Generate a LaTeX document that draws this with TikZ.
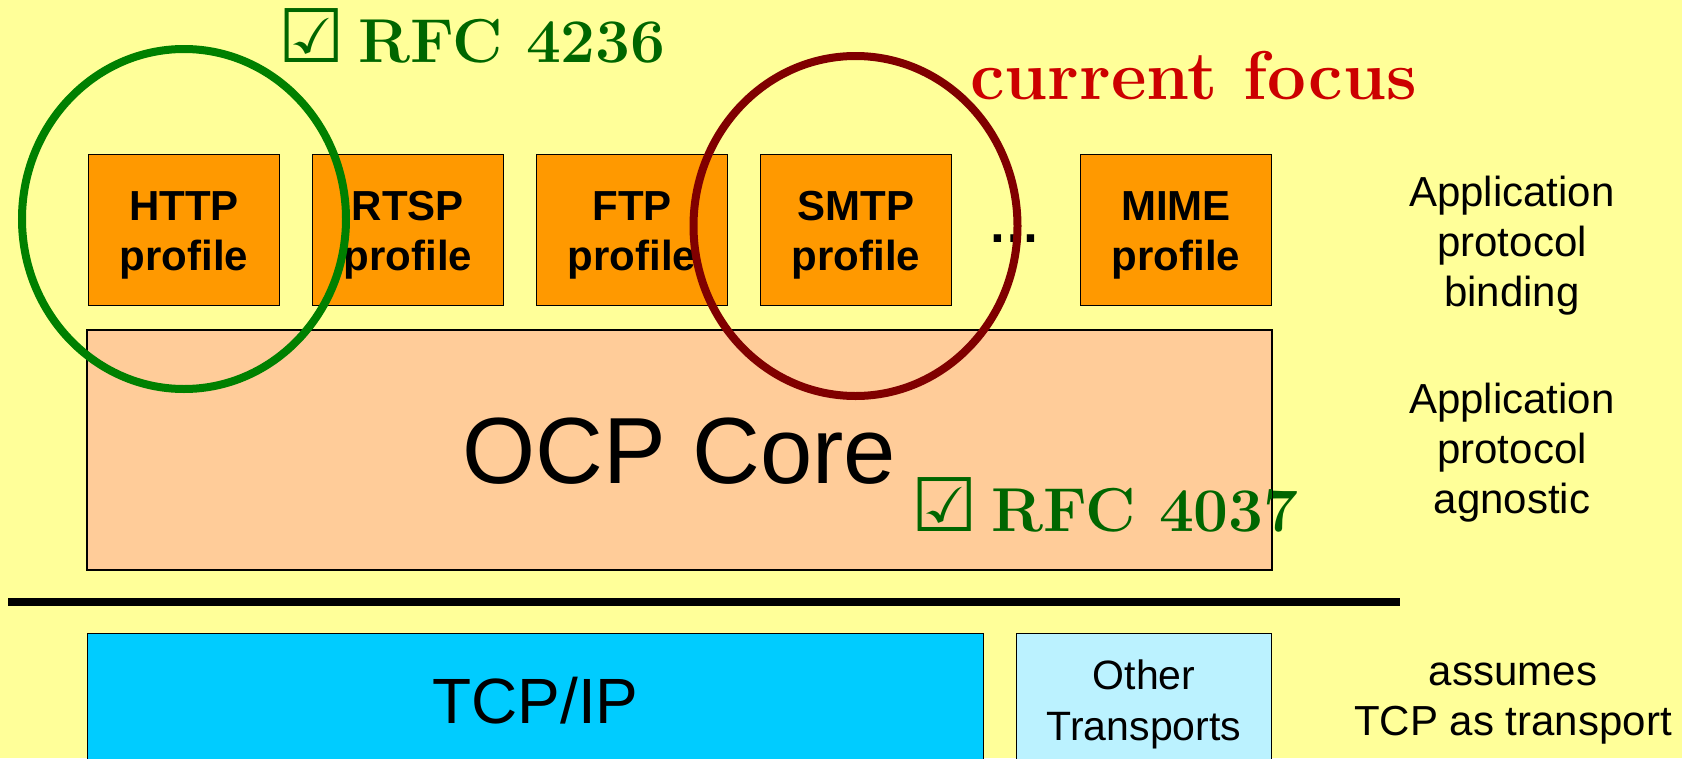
\documentclass[tikz,border=0pt]{standalone}
\usepackage{fontspec}
\newfontfamily\arial{Liberation Sans}
\newfontfamily\dejavu{DejaVu Sans}
\definecolor{bgyellow}{HTML}{FFFF99}
\definecolor{orangeA}{HTML}{FF9900}
\definecolor{peach}{HTML}{FFCC99}
\definecolor{tcpblue}{HTML}{00CCFF}
\definecolor{lightcyan}{RGB}{187,242,255}
\definecolor{ringgreen}{HTML}{008000}
\definecolor{textgreen}{HTML}{006600}
\definecolor{ringred}{HTML}{800000}
\definecolor{textred}{HTML}{CC0000}
\newcommand{\chkbox}{{\dejavu\bfseries\fontsize{74}{74}\selectfont ☑}}
\tikzset{
  box/.style={draw=black, line width=1.8pt, inner sep=0pt, align=center},
  profilebox/.style={box, fill=orangeA, minimum width=191pt, minimum height=151pt,
    font=\arial\bfseries\fontsize{42}{50}\selectfont, text height=80pt, text depth=0pt},
  sidelabel/.style={inner sep=0pt, align=center, font=\arial\fontsize{42}{50}\selectfont, text depth=0pt},
  ring/.style={line width=8pt},
  rfc/.style={inner sep=0pt, anchor=base west, text=textgreen, font=\bfseries\fontsize{62}{62}\selectfont},
}
\begin{document}
\begin{tikzpicture}[x=1pt,y=-1pt]
\fill[bgyellow] (0,0) rectangle (1682,758);
\useasboundingbox (0,0) rectangle (1682,758);
% profiles
\node[profilebox] (http) at (184,230) {HTTP\\profile};
\node[profilebox] (rtsp) at (408,230) {RTSP\\profile};
\node[profilebox] (ftp)  at (632,230) {FTP\\profile};
\node[profilebox] (smtp) at (856,230) {SMTP\\profile};
\node[profilebox] (mime) at (1176,230) {MIME\\profile};
\node[inner sep=0pt, anchor=base, font=\arial\bfseries\fontsize{52}{52}\selectfont] (dots) at (1014,242) {…};
% core
\node[box, fill=peach, minimum width=1184pt, minimum height=239pt,
      font=\arial\fontsize{94}{94}\selectfont, text height=67pt, text depth=0pt] (ocp) at (679.5,450) {OCP Core};
\node[rfc] (rfcb) at (911,531) {\chkbox\hspace{14pt}RFC 4037};
\draw[line width=1.8pt] (ocp.north west) rectangle (ocp.south east);
% separator
\coordinate (la) at (8,602);
\coordinate (lb) at (1400,602);
\draw[line width=8pt] (la) -- (lb);
% transports
\node[box, fill=tcpblue, minimum width=896pt, minimum height=133pt,
      font=\arial\fontsize{64}{64}\selectfont, text height=46pt, text depth=0pt] (tcp) at (535.5,700) {TCP/IP};
\node[box, fill=lightcyan, minimum width=255pt, minimum height=133pt,
      font=\arial\fontsize{41}{51}\selectfont, text height=80pt, text depth=0pt] (other) at (1144,700) {Other\\Transports};
% rings
\draw[ring, ringgreen] (184,219) ellipse [x radius=162pt, y radius=170pt];
\draw[ring, ringred] (855.5,226) ellipse [x radius=162pt, y radius=170pt];
% labels
\node[rfc] (rfca) at (278,62) {\chkbox\hspace{14pt}RFC 4236};
\node[inner sep=0pt, anchor=base west, text=textred, font=\bfseries\fontsize{69}{69}\selectfont] (focus) at (970,99) {current focus};
\node[sidelabel, text height=130pt] (lab1) at (1512,241) {Application\\protocol\\binding};
\node[sidelabel, text height=130pt] (lab2) at (1512,448) {Application\\protocol\\agnostic};
\node[sidelabel, text height=80pt] (lab3) at (1513,695) {assumes\\TCP as transport};
\end{tikzpicture}
\end{document}
